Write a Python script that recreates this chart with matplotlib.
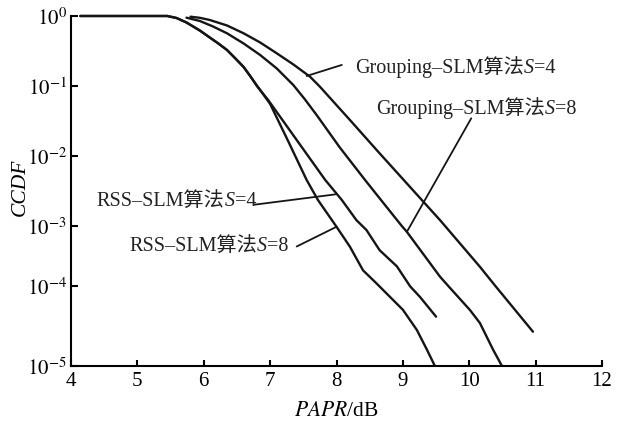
import numpy as np
import matplotlib
matplotlib.use('Agg')
import matplotlib.pyplot as plt
from matplotlib.offsetbox import TextArea, HPacker, AnnotationBbox

plt.rcParams['mathtext.fontset'] = 'stix'
SERIF = ['Liberation Serif', 'Noto Sans CJK SC']

# curves (PAPR in dB, CCDF)
rss8_x = [4.14, 5.45, 5.59, 5.74, 5.94, 6.09, 6.21, 6.35, 6.47, 6.60, 6.73, 6.86, 7.00, 7.27,
          7.55, 7.72, 8.00, 8.20, 8.40, 8.60, 9.00, 9.21, 9.36, 9.48]
rss8_y = [1.0, 1.0, 0.936, 0.807, 0.621, 0.493, 0.411, 0.327, 0.251, 0.187, 0.126, 0.0848,
          0.0552, 0.0163, 4.5e-3, 2.33e-3, 9.6e-4, 4.5e-4, 1.8e-4, 1.1e-4, 5.0e-5, 2.8e-5,
          1.6e-5, 1.0e-5]

rss4_x = [4.14, 5.45, 5.59, 5.74, 5.94, 6.09, 6.21, 6.35, 6.47, 6.60, 6.70, 6.80, 6.97, 7.40,
          7.83, 8.08, 8.30, 8.45, 8.65, 8.91, 9.11, 9.26, 9.50]
rss4_y = [1.0, 1.0, 0.936, 0.807, 0.621, 0.493, 0.411, 0.327, 0.251, 0.187, 0.139, 0.100,
          0.063, 0.0168, 4.5e-3, 2.33e-3, 1.2e-3, 8.5e-4, 3.9e-4, 2.1e-4, 9.8e-5, 7.2e-5,
          4.1e-5]

grp8_x = [5.74, 5.94, 6.14, 6.35, 6.60, 6.85, 7.10, 7.35, 7.52, 7.70, 8.05, 8.43, 8.65,
          8.98, 9.06, 9.56, 9.68, 10.01, 10.16, 10.36, 10.49]
grp8_y = [0.946, 0.849, 0.708, 0.566, 0.405, 0.277, 0.178, 0.103, 0.065, 0.0384, 0.0131,
          4.5e-3, 2.46e-3, 1.0e-3, 7.9e-4, 1.41e-4, 1.0e-4, 4.97e-5, 3.42e-5, 1.58e-5, 1.0e-5]

grp4_x = [5.80, 5.94, 6.09, 6.35, 6.60, 6.85, 7.10, 7.35, 7.60, 7.75, 8.20, 8.65, 9.33,
          9.56, 10.16, 10.39, 10.96]
grp4_y = [0.977, 0.942, 0.877, 0.732, 0.566, 0.418, 0.293, 0.203, 0.136, 0.0977, 0.0327,
          0.0108, 2.09e-3, 1.2e-3, 2.07e-4, 1.0e-4, 2.66e-5]

labels = ['Grouping–SLM算法', 'Grouping–SLM算法', 'RSS–SLM算法', 'RSS–SLM算法']
label_s = ['4', '8', '4', '8']
label_pos = [(8.28, 0.189), (8.59, 0.048), (4.39, 2.2e-3), (4.88, 4.5e-4)]
pointer_from = [(8.08, 0.20), (10.03, 0.0344), (6.77, 2.0e-3), (7.40, 4.5e-4)]
pointer_to = [(7.55, 0.139), (9.06, 7.9e-4), (7.98, 2.8e-3), (8.00, 9.6e-4)]

xticks = [4, 5, 6, 7, 8, 9, 10, 11, 12]
yticks = [1e-5, 1e-4, 1e-3, 1e-2, 1e-1, 1e0]

# the decades are not evenly spaced in the printed figure
dec_log = [-5, -4, -3, -2, -1, 0]
dec_pos = [0, 80, 140, 210, 279.7, 349.7]


def fwd(y):
    return np.interp(np.log10(np.maximum(y, 1e-12)), dec_log, dec_pos)


def inv(v):
    return 10 ** np.interp(v, dec_pos, dec_log)


fig = plt.figure(figsize=(6.23, 4.22), dpi=100)
ax = fig.add_axes([0.114, 0.1334, 0.8523, 0.8287])
ax.set_yscale('function', functions=(fwd, inv))

for xs, ys in [(rss8_x, rss8_y), (rss4_x, rss4_y), (grp8_x, grp8_y), (grp4_x, grp4_y)]:
    ax.plot(xs, ys, color='#151515', lw=1.7, clip_on=False,
            solid_joinstyle='round', solid_capstyle='round')

for name, s, pos, p0, p1 in zip(labels, label_s, label_pos, pointer_from, pointer_to):
    parts = [TextArea(name, textprops=dict(family=SERIF, size=14.5, color='#222222')),
             TextArea('S', textprops=dict(family=SERIF, size=14.5, style='italic', color='#222222')),
             TextArea('=' + s, textprops=dict(family=SERIF, size=14.5, color='#222222'))]
    box = HPacker(children=parts, align='baseline', pad=0, sep=0)
    ax.add_artist(AnnotationBbox(box, pos, xycoords='data', box_alignment=(0, 0.5),
                                 frameon=False, pad=0))
    ax.annotate('', xy=p1, xytext=p0,
                arrowprops=dict(arrowstyle='-', lw=1.3, color='#151515', shrinkA=0, shrinkB=0))

ax.set_xlim(4, 12)
ax.set_ylim(1e-5, 1)
ax.set_xticks(xticks)
ax.set_xticklabels([str(t) for t in xticks], family='Liberation Serif', size=15)
ax.set_yticks(yticks)
ax.set_yticklabels(['$10^{%d}$' % int(np.log10(t)) for t in yticks], size=15)
ax.minorticks_off()

ax.spines['top'].set_visible(False)
ax.spines['right'].set_visible(False)
for sp in ['left', 'bottom']:
    ax.spines[sp].set_linewidth(1.5)
ax.tick_params(axis='x', direction='in', length=4.5, width=1.5, pad=4.5)
ax.tick_params(axis='y', direction='in', length=5, width=1.5, pad=3)

ax.set_xlabel('$PAPR$/dB', family='Liberation Serif', size=15.5, labelpad=8)
ax.set_ylabel('CCDF', family='Liberation Serif', style='italic', size=15.5)
ax.yaxis.set_label_coords(-0.077, 0.51)

fig.savefig('out.png', dpi=100)
